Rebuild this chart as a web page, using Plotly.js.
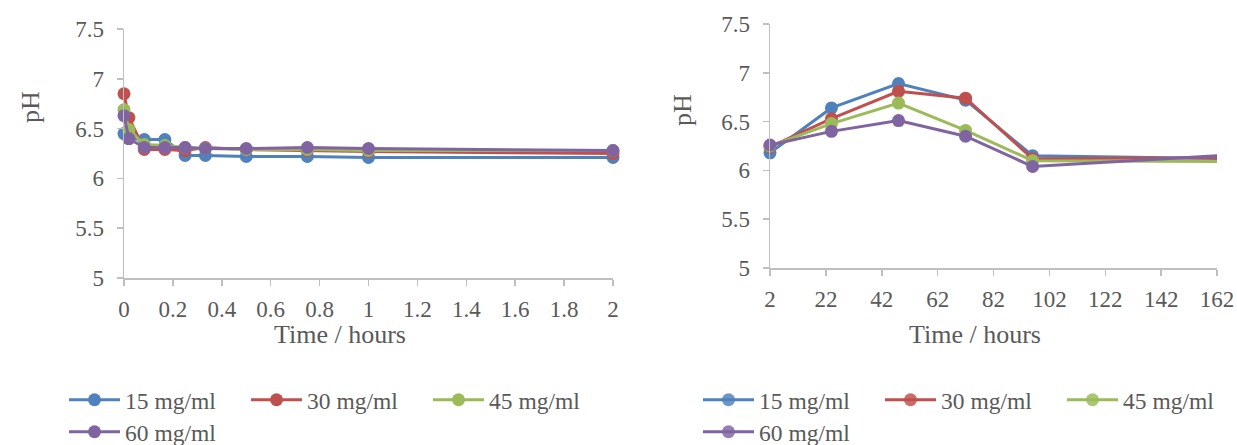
<!DOCTYPE html>
<html>
<head>
<meta charset="utf-8">
<script src="https://cdn.plot.ly/plotly-3.0.1.min.js"></script>
<style>
  html, body { margin: 0; padding: 0; background: #fff; }
  #chart { width: 1237px; height: 445px; }
</style>
</head>
<body>
<div id="chart"></div>
<script>
// series names and colours
const seriesNames = ["15 mg/ml", "30 mg/ml", "45 mg/ml", "60 mg/ml"];
const seriesColors = ["#4f81bd", "#c0504d", "#9bbb59", "#8064a2"];

// left chart: first two hours
const shortHours = [0, 0.02, 0.083, 0.167, 0.25, 0.333, 0.5, 0.75, 1, 2];
const shortBlue   = [6.45, 6.40, 6.39, 6.39, 6.23, 6.23, 6.22, 6.22, 6.21, 6.21];
const shortRed    = [6.85, 6.61, 6.29, 6.29, 6.28, 6.31, 6.29, 6.28, 6.27, 6.25];
const shortGreen  = [6.69, 6.49, 6.34, 6.33, 6.31, 6.30, 6.29, 6.29, 6.28, 6.28];
const shortPurple = [6.63, 6.40, 6.31, 6.31, 6.31, 6.30, 6.30, 6.31, 6.30, 6.28];

// right chart: long run (last point lies past the axis end)
const longHours = [2, 24, 48, 72, 96, 168];
const longBlue   = [6.18, 6.64, 6.89, 6.72, 6.15, 6.12];
const longRed    = [6.24, 6.53, 6.81, 6.74, 6.12, 6.13];
const longGreen  = [6.25, 6.48, 6.69, 6.41, 6.10, 6.09];
const longPurple = [6.26, 6.40, 6.51, 6.35, 6.04, 6.16];

const shortTicks = [0, 0.2, 0.4, 0.6, 0.8, 1, 1.2, 1.4, 1.6, 1.8, 2];
const longTicks = [2, 22, 42, 62, 82, 102, 122, 142, 162];
const phTicks = [5, 5.5, 6, 6.5, 7, 7.5];

const shortSeries = [shortBlue, shortRed, shortGreen, shortPurple];
const longSeries = [longBlue, longRed, longGreen, longPurple];

const font = "'Liberation Serif', 'Times New Roman', Times, serif";
const grey = "#595959";
const axisGrey = "#bfbfbf";

let traces = [];
for (let i = 0; i < seriesNames.length; i++) {
  traces.push({
    "x": shortHours,
    "y": shortSeries[i],
    "name": seriesNames[i],
    "type": "scatter",
    "mode": "lines+markers",
    "xaxis": "x",
    "yaxis": "y",
    "cliponaxis": false,
    "legend": i < 3 ? "legend" : "legend2",
    "line": {"color": seriesColors[i], "width": 3},
    "marker": {"color": seriesColors[i], "size": 13}
  });
}
for (let i = 0; i < seriesNames.length; i++) {
  traces.push({
    "x": longHours,
    "y": longSeries[i],
    "name": seriesNames[i],
    "type": "scatter",
    "mode": "lines+markers",
    "xaxis": "x2",
    "yaxis": "y2",
    "cliponaxis": false,
    "legend": i < 3 ? "legend3" : "legend4",
    "line": {"color": seriesColors[i], "width": 3},
    // hide the marker for the point beyond the axis end
    "marker": {
      "color": seriesColors[i],
      "size": 13,
      "opacity": longHours.map(h => h > 162 ? 0 : 1)
    }
  });
}

function yAxis(domain, anchor) {
  return {
    "domain": domain,
    "anchor": anchor,
    "range": [5, 7.5],
    "tickvals": phTicks,
    "showgrid": false,
    "zeroline": false,
    "showline": true,
    "linecolor": axisGrey,
    "linewidth": 1.5,
    "ticks": "outside",
    "ticklen": 6,
    "tickcolor": axisGrey,
    "tickwidth": 1.5,
    "ticklabelstandoff": 8,
    "tickfont": {"family": font, "size": 23, "color": grey}
  };
}

function xAxis(domain, anchor, range, ticks) {
  return {
    "domain": domain,
    "anchor": anchor,
    "range": range,
    "tickvals": ticks,
    "showgrid": false,
    "zeroline": false,
    "showline": true,
    "linecolor": axisGrey,
    "linewidth": 1.5,
    "ticks": "outside",
    "ticklen": 6,
    "tickcolor": axisGrey,
    "tickwidth": 1.5,
    "ticklabelstandoff": 4,
    "tickfont": {"family": font, "size": 23, "color": grey}
  };
}

function legendAt(x, y) {
  return {
    "orientation": "h",
    "x": x,
    "y": y,
    "xanchor": "left",
    "yanchor": "middle",
    "itemwidth": 51,
    "entrywidth": 116,
    "bgcolor": "rgba(0,0,0,0)",
    "font": {"family": font, "size": 23.5, "color": grey}
  };
}

const W = 1237, H = 445;

const layout = {
  "width": W,
  "height": H,
  "margin": {"l": 0, "r": 0, "t": 0, "b": 0, "autoexpand": false},
  "font": {"family": font, "color": grey},
  "paper_bgcolor": "#fff",
  "plot_bgcolor": "#fff",
  "xaxis": xAxis([124 / W, 613 / W], "y", [0, 2], shortTicks),
  "yaxis": yAxis([1 - 278 / H, 1 - 29 / H], "x"),
  "xaxis2": xAxis([770 / W, 1217 / W], "y2", [2, 162], longTicks),
  "yaxis2": yAxis([1 - 268 / H, 1 - 24 / H], "x2"),
  "legend": legendAt(64 / W, 1 - 400 / H),
  "legend2": legendAt(64 / W, 1 - 432 / H),
  "legend3": legendAt(698 / W, 1 - 400 / H),
  "legend4": legendAt(698 / W, 1 - 432 / H),
  "annotations": [
    {"text": "pH", "x": 30 / W, "y": 1 - 107 / H, "textangle": -90},
    {"text": "Time / hours", "x": 340 / W, "y": 1 - 334 / H},
    {"text": "pH", "x": 683 / W, "y": 1 - 110 / H, "textangle": -90},
    {"text": "Time / hours", "x": 975 / W, "y": 1 - 334 / H}
  ].map(a => Object.assign({
    "xref": "paper",
    "yref": "paper",
    "xanchor": "center",
    "yanchor": "middle",
    "showarrow": false,
    "font": {"family": font, "size": 26, "color": grey}
  }, a))
};

Plotly.newPlot("chart", traces, layout, {"staticPlot": true, "displayModeBar": false});
</script>
</body>
</html>
